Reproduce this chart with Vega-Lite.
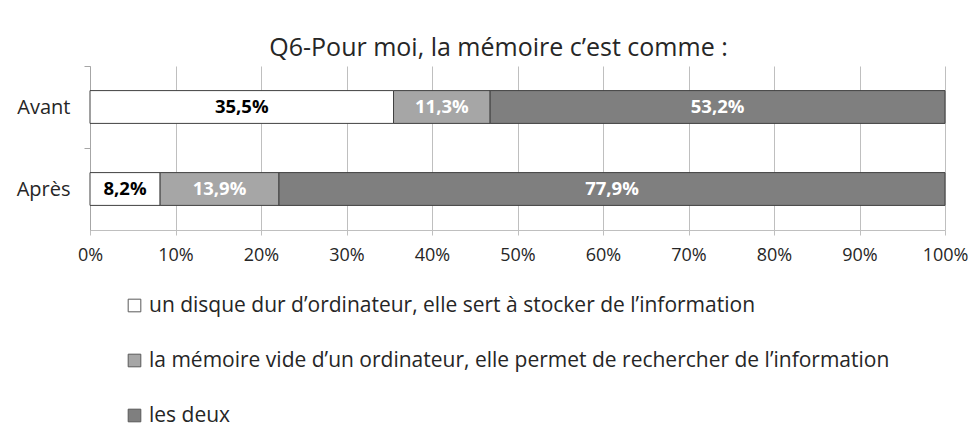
{
  "$schema": "https://vega.github.io/schema/vega-lite/v6.json",
  "autosize": "none",
  "width": 855,
  "height": 164,
  "padding": {"left": 90, "top": 66, "right": 34, "bottom": 202},
  "background": "white",
  "config": {
    "font": "Open Sans",
    "locale": {"number": {"decimal": ",", "thousands": " ", "grouping": [3], "currency": ["", " €"]}},
    "view": {"stroke": null}
  },
  "title": {
    "text": "Q6-Pour moi, la mémoire c’est comme :",
    "fontSize": 25,
    "fontWeight": "normal",
    "color": "#262626",
    "anchor": "middle",
    "dx": -19,
    "offset": 5
  },
  "data": {
    "values": [
      {"periode": "Avant", "reponse": "un disque dur d’ordinateur, elle sert à stocker de l’information", "o": 1, "part": 0.355},
      {"periode": "Avant", "reponse": "la mémoire vide d’un ordinateur, elle permet de rechercher de l’information", "o": 2, "part": 0.113},
      {"periode": "Avant", "reponse": "les deux", "o": 3, "part": 0.532},
      {"periode": "Après", "reponse": "un disque dur d’ordinateur, elle sert à stocker de l’information", "o": 1, "part": 0.082},
      {"periode": "Après", "reponse": "la mémoire vide d’un ordinateur, elle permet de rechercher de l’information", "o": 2, "part": 0.139},
      {"periode": "Après", "reponse": "les deux", "o": 3, "part": 0.779}
    ]
  },
  "transform": [
    {"stack": "part", "groupby": ["periode"], "sort": [{"field": "o"}], "as": ["v0", "v1"]},
    {"calculate": "(datum.v0 + datum.v1) / 2", "as": "mid"}
  ],
  "encoding": {
    "y": {
      "field": "periode",
      "type": "nominal",
      "sort": ["Avant", "Après"],
      "scale": {"paddingInner": 0.6, "paddingOuter": 0.3},
      "axis": {
        "title": null,
        "labelFontSize": 20,
        "labelColor": "#262626",
        "labelPadding": 14,
        "labelOffset": 1,
        "tickSize": 6,
        "tickColor": "#a6a6a6",
        "domainColor": "#a6a6a6",
        "bandPosition": -0.75,
        "grid": false
      }
    }
  },
  "layer": [
    {
      "mark": {"type": "bar", "stroke": "#404040", "strokeWidth": 1},
      "encoding": {
        "x": {
          "field": "v0",
          "type": "quantitative",
          "scale": {"domain": [0, 1], "nice": false},
          "axis": {
            "title": null,
            "format": ".0%",
            "values": [0, 0.1, 0.2, 0.3, 0.4, 0.5, 0.6, 0.7, 0.8, 0.9, 1],
            "labelFontSize": 18,
            "labelColor": "#262626",
            "labelPadding": 11,
            "tickSize": 5,
            "tickColor": "#bfbfbf",
            "domainColor": "#bfbfbf",
            "gridColor": "#bfbfbf",
            "grid": true,
            "labelFlush": false
          }
        },
        "x2": {"field": "v1"},
        "color": {
          "field": "reponse",
          "type": "nominal",
          "scale": {
            "domain": [
              "un disque dur d’ordinateur, elle sert à stocker de l’information",
              "la mémoire vide d’un ordinateur, elle permet de rechercher de l’information",
              "les deux"
            ],
            "range": ["#ffffff", "#a6a6a6", "#7f7f7f"]
          },
          "legend": {
            "title": null,
            "orient": "none",
            "legendX": 34,
            "legendY": 229,
            "direction": "vertical",
            "symbolType": "square",
            "symbolSize": 160,
            "symbolStrokeColor": "#595959",
            "symbolStrokeWidth": 1,
            "labelFontSize": 21,
            "labelColor": "#262626",
            "labelLimit": 900,
            "labelOffset": 4,
            "rowPadding": 33
          }
        }
      }
    },
    {
      "mark": {"type": "text", "fontSize": 18.5, "fontWeight": "bold"},
      "encoding": {
        "x": {"field": "mid", "type": "quantitative"},
        "text": {"field": "part", "type": "quantitative", "format": ".1%"},
        "color": {
          "condition": {"test": "datum.o == 1", "value": "#000000"},
          "value": "#ffffff"
        }
      }
    }
  ]
}
